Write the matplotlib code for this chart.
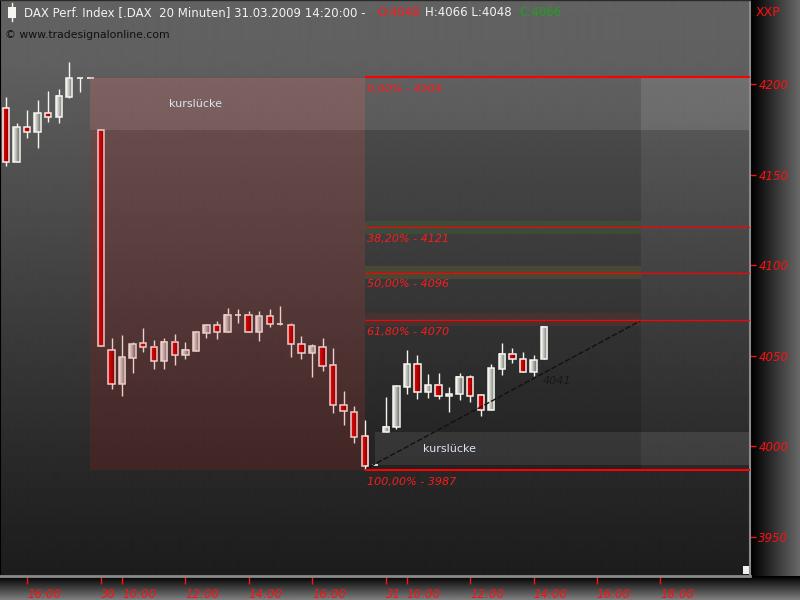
import numpy as np
import matplotlib
matplotlib.use("Agg")
import matplotlib.pyplot as plt
from matplotlib.patches import Rectangle

# DAX 20-minute candles, 27.03.2009 15:20 .. 31.03.2009 14:20 (bar index = x)
opens = [4186.7, 4157.2, 4176.2, 4173.8, 4184.0, 4181.8, 4193.2, 4203.5, 4203.5,
         4174.7, 4053.0, 4034.5, 4048.9, 4056.9, 4054.7, 4047.3, 4057.8, 4050.2,
         4052.8, 4062.4, 4066.8, 4063.0, 4072.5, 4072.4, 4063.0, 4071.8, 4067.4,
         4066.8, 4056.3, 4051.4, 4054.7, 4044.7, 4022.6, 4018.7, 4005.5, 3989.6,
         4007.7, 4010.8, 4032.9, 4045.3, 4030.1, 4033.7, 4027.6, 4028.7, 4038.1,
         4028.1, 4020.0, 4042.5, 4050.8, 4048.0, 4040.9, 4048.0]
highs = [4193.1, 4178.8, 4185.8, 4191.3, 4196.3, 4197.2, 4212.2, 4203.5, 4203.5,
         4174.7, 4059.6, 4061.5, 4057.4, 4065.2, 4058.7, 4059.6, 4062.0, 4057.6,
         4063.5, 4067.6, 4069.2, 4076.2, 4075.7, 4074.6, 4074.6, 4075.7, 4077.5,
         4068.0, 4061.1, 4056.3, 4059.6, 4054.1, 4030.5, 4022.0, 4014.4, 3989.6,
         4027.0, 4033.8, 4053.2, 4050.4, 4039.9, 4040.3, 4032.7, 4040.3, 4039.4,
         4028.7, 4045.3, 4056.9, 4054.1, 4052.0, 4050.4, 4066.0]
lows = [4154.9, 4157.0, 4170.5, 4165.0, 4179.3, 4178.8, 4192.6, 4195.9, 4203.5,
        4055.6, 4031.6, 4027.8, 4040.3, 4052.3, 4042.8, 4042.8, 4044.9, 4048.0,
        4052.8, 4060.0, 4059.4, 4063.0, 4068.0, 4063.0, 4058.0, 4065.7, 4066.8,
        4049.5, 4048.4, 4038.4, 4041.7, 4018.5, 4011.9, 4001.9, 3987.0, 3989.6,
        4007.7, 4009.4, 4028.7, 4026.3, 4026.8, 4026.3, 4018.7, 4025.7, 4024.6,
        4016.9, 4020.0, 4039.4, 4045.8, 4040.9, 4038.8, 4048.0]
closes = [4157.2, 4176.2, 4173.8, 4184.0, 4181.8, 4193.5, 4203.5, 4203.5, 4203.5,
          4055.6, 4034.5, 4049.2, 4056.3, 4054.7, 4046.9, 4057.8, 4050.2, 4053.0,
          4063.0, 4066.8, 4063.0, 4072.4, 4072.5, 4063.0, 4071.8, 4067.4, 4067.4,
          4056.3, 4051.4, 4055.2, 4044.5, 4022.6, 4019.3, 4004.9, 3989.3, 3989.6,
          4010.5, 4033.1, 4045.4, 4030.0, 4033.8, 4027.6, 4028.7, 4038.1, 4027.9,
          4020.0, 4043.1, 4050.8, 4048.0, 4040.9, 4047.5, 4066.0]

tick_pos = [2, 9, 11, 17, 23, 29, 36, 38, 44, 50, 56, 62]
tick_labels = ["16:00", "30", "10:00", "12:00", "14:00", "16:00",
               "31", "10:00", "12:00", "14:00", "16:00", "18:00"]
price_ticks = [3950, 4000, 4050, 4100, 4150, 4200]

fib_pct = [0.0, 38.2, 50.0, 61.8, 100.0]
fib_vals = [4204, 4121, 4096, 4070, 3987]
fib_start, fib_end = 34, 60.2
band_colors = {38.2: "#3e4e3a", 50.0: "#4b4a34", 61.8: "#4a3232"}

trend_x = [34.5, 60.1]
trend_y = [3988.7, 4069.2]
trend_label = "4041"

XMIN, XMAX = -0.57, 70.52
YMIN, YMAX = 3928.3, 4246.6

fig = plt.figure(figsize=(8, 6), dpi=100)

# background panels in pixel coordinates
bg = fig.add_axes([0, 0, 1, 1])
bg.set_xlim(0, 800)
bg.set_ylim(600, 0)
bg.axis("off")

ys = np.arange(576)
main_grad = np.interp(ys, [0, 60, 130, 250, 350, 470, 576],
                      [98, 96, 86, 70, 56, 40, 28]) / 255
bg.imshow(main_grad[:, None], extent=[0, 750, 576, 0], aspect="auto",
          cmap="gray", vmin=0, vmax=1, interpolation="bilinear")
right_grad = np.linspace(0, 105, 50) / 255
bg.imshow(right_grad[None, :], extent=[751, 800, 576, 0], aspect="auto",
          cmap="gray", vmin=0, vmax=1, interpolation="bilinear")
bottom_grad = np.linspace(0, 125, 24) / 255
bg.imshow(bottom_grad[:, None], extent=[0, 800, 600, 576], aspect="auto",
          cmap="gray", vmin=0, vmax=1, interpolation="bilinear")

# title line
bg.add_patch(Rectangle((8, 7), 8, 11, fc="#f4f4f0", ec="none"))
bg.plot([12, 12], [3, 21], color="#f4f4f0", lw=1)
tkw = dict(fontsize=8.5, va="center", ha="left")
bg.text(24, 13, "DAX Perf. Index [.DAX  20 Minuten] 31.03.2009 14:20:00 -",
        color="#f2f2f2", **tkw)
bg.text(377, 13, "O:4048", color="#ff1a1a", **tkw)
bg.text(425, 13, "H:4066 L:4048", color="#f2f2f2", **tkw)
bg.text(519, 13, "C:4066", color="#1fa01f", **tkw)
bg.text(5, 35, "\u00a9 www.tradesignalonline.com", color="#101010",
        fontsize=7.8, va="center", ha="left")
bg.text(756, 12, "XXP", color="#ff1010", fontsize=9, va="center", ha="left")
bg.add_patch(Rectangle((743, 566), 8, 8, fc="#f0f0f0", ec="none", zorder=5))

# main chart
ax = fig.add_axes([0, 24 / 600, 750 / 800, 576 / 600])
ax.set_facecolor("none")

gap1_lo, gap1_hi = opens[9], closes[8]
gap2_lo, gap2_hi = closes[35], opens[36]

ax.add_patch(Rectangle((8, gap1_lo), XMAX - 8, gap1_hi - gap1_lo,
                       fc="white", alpha=0.12, lw=0, zorder=1))
ax.add_patch(Rectangle((35, gap2_lo), XMAX - 35, gap2_hi - gap2_lo,
                       fc="white", alpha=0.10, lw=0, zorder=1))
ax.add_patch(Rectangle((fib_start, fib_vals[-1]), fib_end - fib_start,
                       fib_vals[0] - fib_vals[-1], fc="black", alpha=0.14,
                       lw=0, zorder=1.5))
for p, v in zip(fib_pct, fib_vals):
    if p in band_colors:
        ax.add_patch(Rectangle((fib_start, v - 3.6), fib_end - fib_start, 7.0,
                               fc=band_colors[p], alpha=0.9, lw=0, zorder=1.6))

# candles
w = 0.6
up_img = np.linspace([0.97, 0.97, 0.95], [0.42, 0.42, 0.40], 10)[None, :, :]
dn_img = np.linspace([0.95, 0.0, 0.0], [0.45, 0.0, 0.0], 10)[None, :, :]
edge = "#f4f4f0"
for i in range(len(opens)):
    o, h, l, c = opens[i], highs[i], lows[i], closes[i]
    ax.vlines(i, l, h, color=edge, lw=1, zorder=3)
    lo, hi = min(o, c), max(o, c)
    if hi - lo < 0.5:
        ax.hlines(o, i - w / 2, i + w / 2, color=edge, lw=1.2, zorder=4)
        continue
    ax.imshow(up_img if c > o else dn_img, extent=[i - w / 2, i + w / 2, lo, hi],
              aspect="auto", interpolation="bilinear", zorder=4)
    ax.add_patch(Rectangle((i - w / 2, lo), w, hi - lo, fill=False, ec=edge,
                           lw=1.1, zorder=5))

# red range box over day 30
ax.add_patch(Rectangle((8, fib_vals[-1]), fib_start - 8, fib_vals[0] - fib_vals[-1],
                       fc="#c41818", alpha=0.17, lw=0, zorder=6))

# fibonacci lines
for p, v in zip(fib_pct, fib_vals):
    lw = 1.5 if p in (0.0, 100.0) else 0.9
    ax.hlines(v, fib_start, XMAX, color="#ff0000", lw=lw, zorder=7)
    lab = f"{p:.2f}".replace(".", ",") + f"% - {v}"
    ax.annotate(lab, (fib_start, v), xytext=(1.5, -8.6), textcoords="offset points",
                color="#ff1a1a", fontsize=8, style="italic", va="center",
                ha="left", zorder=8)

ax.plot(trend_x, trend_y, color="#111111", lw=1, ls=(0, (4, 1.5)), zorder=6)
ax.text(50.9, 4036, trend_label, color="#181818", fontsize=8, style="italic",
        va="center", ha="left", zorder=8)

ax.text(18, (gap1_lo + gap1_hi) / 2, "kurslücke", color="#dce4f4", fontsize=8,
        ha="center", va="center", zorder=8)
ax.text(42, (gap2_lo + gap2_hi) / 2, "kurslücke", color="#dce4f4", fontsize=8,
        ha="center", va="center", zorder=8)

ax.set_xlim(XMIN, XMAX)
ax.set_ylim(YMIN, YMAX)

ax.set_xticks(tick_pos)
ax.set_xticklabels(tick_labels, ha="left", fontsize=8.5, style="italic")
ax.tick_params(axis="x", direction="out", length=6, width=1, colors="#ff1010", pad=3)
ax.yaxis.tick_right()
ax.set_yticks(price_ticks)
ax.set_yticklabels([str(v) for v in price_ticks], fontsize=8.5, style="italic")
ax.tick_params(axis="y", direction="out", length=4, width=1, colors="#ff1010", pad=2)

ax.spines["bottom"].set_color("#8a8a8a")
ax.spines["bottom"].set_linewidth(2)
ax.spines["right"].set_color("#8a8a8a")
ax.spines["right"].set_linewidth(1.5)
ax.spines["left"].set_color("black")
ax.spines["left"].set_linewidth(1.5)
ax.spines["top"].set_color("#2a2a2a")
ax.spines["top"].set_linewidth(1)

fig.savefig("out.png", dpi=100)
